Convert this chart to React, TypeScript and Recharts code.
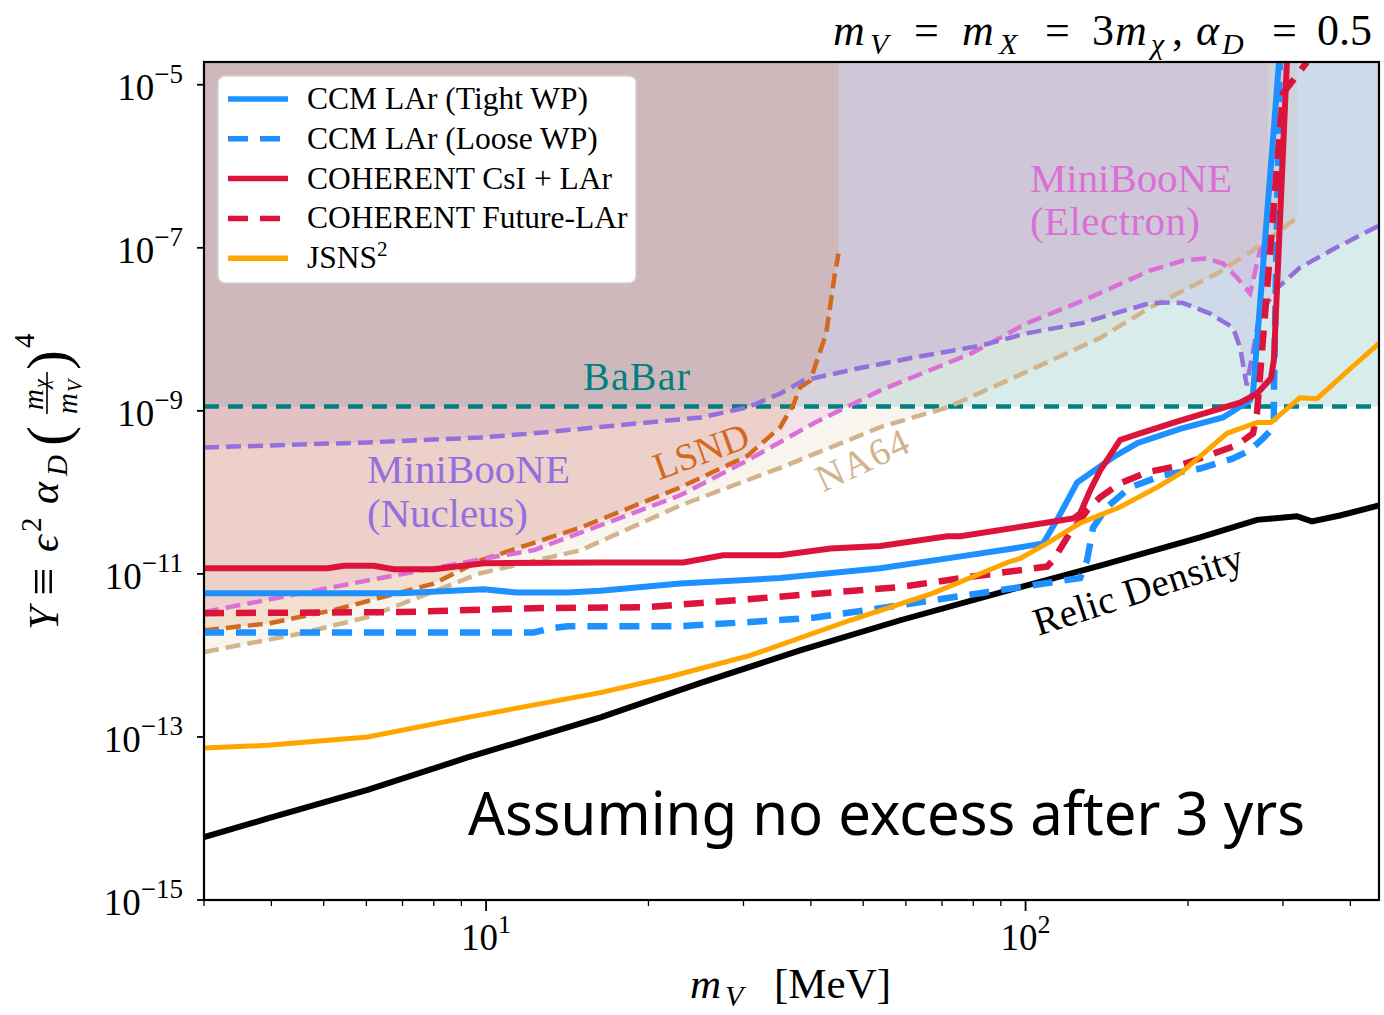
import React from 'react';
import { ComposedChart, XAxis, YAxis, Area, Line } from 'recharts';

type Pt = [number, number];

// axis ticks
const xTicks = [3, 4, 5, 6, 7, 8, 9, 10, 20, 30, 40, 50, 60, 70, 80, 90, 100, 200, 300, 400];
const xMajorTicks = [10, 100];
const xTickExps = ['1', '2'];
const yTicks = [1e-15, 1e-13, 1e-11, 1e-9, 1e-7, 1e-5];
const yTickExps = ['−15', '−13', '−11', '−9', '−7', '−5'];

const X_DOMAIN: [number, number] = [3, 452];
const Y_DOMAIN: [number, number] = [1e-15, 1.9e-5];

// existing constraints (filled above the curve)
const babar: Pt[] = [[3, 1.13e-9], [452, 1.13e-9]];

const mbNucleus: Pt[] = [
  [3.0, 3.55e-10], [6.03, 4.1e-10], [9.77, 4.7e-10], [12.25, 5.3e-10], [25.0, 8.3e-10],
  [30.5, 1.1e-9], [35.1, 1.63e-9], [38.7, 2.35e-9], [48.8, 3.3e-9], [61.9, 4.5e-9],
  [82.6, 6.3e-9], [100.3, 8.9e-9], [127.8, 1.2e-8], [170.2, 2.1e-8], [185.3, 2.13e-8],
  [195.9, 2.1e-8], [219.8, 1.56e-8], [242.4, 1.05e-8], [249.8, 6.0e-9], [257, 2.05e-9],
  [271.9, 1.56e-8], [293.6, 3.25e-8], [322.5, 5.7e-8], [376, 1.0e-7], [452, 1.87e-7],
];

const mbElectron: Pt[] = [
  [3.0, 3.4e-12], [6.03, 8.3e-12], [10.0, 1.55e-11], [12.25, 1.95e-11], [14.97, 3.2e-11],
  [22.9, 9.2e-11], [30.5, 2.46e-10], [40.4, 7.0e-10], [53.8, 1.78e-9], [61.9, 2.6e-9],
  [79.0, 5.0e-9], [100.3, 1.18e-8], [127.8, 2.25e-8], [170.2, 5.26e-8], [195.9, 6.97e-8],
  [217.0, 7.4e-8], [232.3, 6.4e-8], [246.6, 4.3e-8], [260.7, 2.75e-8], [271.9, 9.2e-8],
  [281.3, 1.23e-7],
];

const lsnd: Pt[] = [
  [3.0, 2.04e-12], [3.94, 2.46e-12], [5.22, 3.6e-12], [8.0, 7.6e-12], [9.77, 1.47e-11],
  [14.97, 3.7e-11], [22.9, 1.15e-10], [30.5, 2.8e-10], [35.1, 6.3e-10], [37.2, 1.23e-9],
  [38.2, 1.94e-9], [39.9, 2.35e-9], [42.7, 8.9e-9], [44.2, 4.3e-8], [45.0, 8.5e-8],
];

const na64: Pt[] = [
  [3.0, 1.1e-12], [4.54, 1.86e-12], [6.03, 2.95e-12], [9.77, 1.02e-11], [14.97, 1.95e-11],
  [22.9, 6.9e-11], [35.1, 2.0e-10], [53.8, 6.3e-10], [71.6, 1.1e-9], [92.5, 2.35e-9],
  [137.8, 7.9e-9], [170.2, 1.85e-8], [226.4, 4.83e-8], [271.9, 1.06e-7], [318.4, 2.34e-7],
];

// thermal target
const relicDensity: Pt[] = [
  [3.0, 5.9e-15], [3.94, 1.0e-14], [6.03, 2.24e-14], [9.24, 5.6e-14], [16.3, 1.74e-13],
  [25.0, 4.6e-13], [38.2, 1.15e-12], [58.6, 2.7e-12], [89.7, 5.9e-12], [137.5, 1.26e-11],
  [210.6, 2.8e-11], [268.5, 4.6e-11], [318.4, 5.1e-11], [339.4, 4.4e-11], [382.5, 5.2e-11],
  [452, 6.9e-11],
];

// projected sensitivities
const ccmTight: Pt[] = [
  [3.0, 5.8e-12], [6.95, 5.8e-12], [9.9, 6.5e-12], [11.4, 5.9e-12], [14.16, 5.9e-12],
  [16.3, 6.2e-12], [22.9, 7.6e-12], [35.1, 8.9e-12], [53.8, 1.17e-11], [71.6, 1.55e-11],
  [94.8, 2.05e-11], [107.8, 2.37e-11], [114.4, 4.6e-11], [124.6, 1.32e-10], [145.3, 2.7e-10],
  [161.0, 4.0e-10], [193.4, 6.0e-10], [232.3, 8.3e-10], [260.7, 1.35e-9], [264.0, 1.63e-9],
  [295, 1.9e-5],
];

const ccmLoose: Pt[] = [
  [3.0, 1.91e-12], [12.25, 1.91e-12], [13.17, 2.14e-12], [14.16, 2.28e-12], [22.9, 2.28e-12],
  [30.5, 2.56e-12], [40.4, 2.9e-12], [53.8, 3.8e-12], [82.4, 5.8e-12], [126.2, 8.9e-12],
  [130.0, 1.47e-11], [133.4, 3.7e-11], [141.6, 6.6e-11], [156.2, 1.15e-10], [179.8, 1.62e-10],
  [210.6, 1.96e-10], [242.4, 2.6e-10], [260.7, 3.3e-10], [275.5, 4.6e-10], [288.6, 6.3e-10],
  [288.6, 1.63e-9], [296, 1.9e-5],
];

const coherentNow: Pt[] = [
  [3.0, 1.17e-11], [5.09, 1.17e-11], [5.45, 1.26e-11], [6.19, 1.26e-11], [6.74, 1.14e-11],
  [8.0, 1.14e-11], [9.9, 1.35e-11], [16.3, 1.38e-11], [23.2, 1.38e-11], [27.5, 1.69e-11],
  [35.1, 1.69e-11], [43.5, 2.05e-11], [53.8, 2.2e-11], [71.6, 2.9e-11], [75.7, 2.9e-11],
  [103.3, 4.0e-11], [122.5, 4.8e-11], [126.2, 5.5e-11], [131.7, 1.05e-10], [137.5, 1.86e-10],
  [149.7, 4.4e-10], [163.0, 5.3e-10], [193.4, 7.6e-10], [249.8, 1.26e-9], [268.5, 1.63e-9],
  [285.0, 2.5e-9], [288.6, 4.2e-9], [305.1, 1.9e-5],
];

const coherentFuture: Pt[] = [
  [3.0, 3.3e-12], [6.95, 3.4e-12], [12.25, 3.8e-12], [19.9, 3.9e-12], [25.0, 4.4e-12],
  [38.2, 5.5e-12], [58.6, 6.9e-12], [78.0, 9.1e-12], [109.6, 1.23e-11], [112.5, 1.47e-11],
  [119.4, 2.8e-11], [130.0, 6.0e-11], [137.5, 8.7e-11], [149.7, 1.29e-10], [168.0, 1.77e-10],
  [193.4, 2.14e-10], [226.4, 3.1e-10], [246.6, 3.8e-10], [264.0, 5.3e-10], [268.5, 9.3e-10],
  [300.0, 7.8e-6], [332.3, 1.9e-5],
];

const jsns2: Pt[] = [
  [3.0, 7.3e-14], [3.94, 7.9e-14], [6.03, 1.0e-13], [9.24, 1.74e-13], [16.3, 3.5e-13],
  [21.7, 5.4e-13], [30.9, 1.0e-12], [47.3, 2.7e-12], [67.4, 5.8e-12], [92.5, 1.38e-11],
  [97.7, 1.55e-11], [109.6, 2.37e-11], [126.2, 4.2e-11], [149.7, 6.6e-11], [175.3, 1.15e-10],
  [193.4, 1.7e-10], [236.3, 5.3e-10], [268.5, 7.2e-10], [285.0, 7.2e-10], [322.5, 1.45e-9],
  [347, 1.41e-9], [402, 3.4e-9], [452, 6.7e-9],
];

const legendLabels = ['CCM LAr (Tight WP)', 'CCM LAr (Loose WP)', 'COHERENT CsI + LAr', 'COHERENT Future-LAr', 'JSNS'];

const pts = (a: Pt[]) => a.map(([x, y]) => ({ x, y }));

const SERIF = "'Liberation Serif', 'Times New Roman', serif";
const BLUE = '#1E90FF';
const RED = '#DC143C';
const ORANGE = '#FFA500';
const TEAL = '#008080';
const PURPLE = '#9370DB';
const ORCHID = '#DA70D6';
const CHOC = '#D2691E';
const TAN = '#D2B48C';

const THIN_DASH = '15 7';
const THICK_DASH = '20 12';

const XTick = (props: any) => {
  const { x, y, payload } = props;
  const mi = xMajorTicks.indexOf(payload.value);
  const major = mi >= 0;
  return (
    <g>
      <line x1={x} x2={x} y1={y} y2={y + (major ? 11 : 6)} stroke="#000" strokeWidth={major ? 1.8 : 1.3} />
      {major && (
        <text x={x} y={y + 50} textAnchor="middle" fontFamily={SERIF} fontSize={37} fill="#000">
          10<tspan dy={-17} fontSize={26}>{xTickExps[mi]}</tspan>
        </text>
      )}
    </g>
  );
};

const YTick = (props: any) => {
  const { x, y, payload } = props;
  let idx = 0;
  yTicks.forEach((t, i) => {
    if (Math.abs(Math.log10(t) - Math.log10(payload.value)) < 0.01) idx = i;
  });
  return (
    <g>
      <line x1={x - 7} x2={x} y1={y} y2={y} stroke="#000" strokeWidth={1.8} />
      <text x={x - 21} y={y + 15} textAnchor="end" fontFamily={SERIF} fontSize={37} fill="#000">
        10<tspan dy={-17} fontSize={27}>{yTickExps[idx]}</tspan>
      </text>
    </g>
  );
};

const fillArea = (data: Pt[], color: string, key: string) => (
  <Area
    key={key}
    data={pts(data)}
    dataKey="y"
    type="linear"
    baseValue="dataMax"
    stroke="none"
    fill={color}
    fillOpacity={0.15}
    dot={false}
    activeDot={false}
    isAnimationActive={false}
  />
);

const curve = (data: Pt[], color: string, width: number, dash: string | undefined, key: string) => (
  <Line
    key={key}
    data={pts(data)}
    dataKey="y"
    type="linear"
    stroke={color}
    strokeWidth={width}
    strokeDasharray={dash}
    dot={false}
    activeDot={false}
    isAnimationActive={false}
  />
);

const legendStyles = [
  { color: BLUE, dash: undefined },
  { color: BLUE, dash: THICK_DASH },
  { color: RED, dash: undefined },
  { color: RED, dash: THICK_DASH },
  { color: ORANGE, dash: undefined },
];

function Overlay() {
  const it = { fontStyle: 'italic' as const };
  return (
    <svg
      width={1384}
      height={1015}
      style={{ position: 'absolute', left: 0, top: 0, pointerEvents: 'none' }}
      fontFamily={SERIF}
    >
      <rect x={204} y={62} width={1175} height={838} fill="none" stroke="#000" strokeWidth={2.2} />

      {/* title */}
      <g fontSize={44} fill="#000">
        <text x={833} y={45} {...it}>m</text>
        <text x={870} y={54} fontSize={30} {...it}>V</text>
        <text x={914} y={45}>=</text>
        <text x={962} y={45} {...it}>m</text>
        <text x={999} y={54} fontSize={30} {...it}>X</text>
        <text x={1045} y={45}>=</text>
        <text x={1092} y={45}>3</text>
        <text x={1115} y={45} {...it}>m</text>
        <text x={1151} y={54} fontSize={30} {...it}>χ</text>
        <text x={1172} y={45}>,</text>
        <text x={1196} y={45} {...it}>α</text>
        <text x={1222} y={54} fontSize={30} {...it}>D</text>
        <text x={1272} y={45}>=</text>
        <text x={1317} y={45}>0.5</text>
      </g>

      {/* x label */}
      <g fontSize={43} fill="#000">
        <text x={690} y={998} {...it}>m</text>
        <text x={725} y={1006} fontSize={30} {...it}>V</text>
        <text x={774} y={998}>[MeV]</text>
      </g>

      {/* y label */}
      <g transform="translate(58,480) rotate(-90)" fill="#000" fontSize={42}>
        <text x={-150} y={0} {...it}>Y</text>
        <text x={-116} y={2} fontSize={50}>≡</text>
        <text x={-72} y={0} {...it}>ϵ</text>
        <text x={-52} y={-17} fontSize={29}>2</text>
        <text x={-24} y={0} {...it}>α</text>
        <text x={4} y={9} fontSize={29} {...it}>D</text>
        <text x={34} y={10} fontSize={60}>(</text>
        <text x={70} y={-15} fontSize={29} {...it}>m</text>
        <text x={92} y={-10} fontSize={20} {...it}>χ</text>
        <line x1={66} x2={108} y1={-11} y2={-11} stroke="#000" strokeWidth={1.6} />
        <text x={66} y={19} fontSize={29} {...it}>m</text>
        <text x={88} y={24} fontSize={20} {...it}>V</text>
        <text x={110} y={10} fontSize={60}>)</text>
        <text x={132} y={-24} fontSize={29}>4</text>
      </g>

      {/* region labels */}
      <text x={583} y={390} fontSize={40} fill={TEAL} textLength={107}>BaBar</text>
      <text x={367} y={483} fontSize={41} fill={PURPLE} textLength={203}>MiniBooNE</text>
      <text x={367} y={527} fontSize={41} fill={PURPLE} textLength={161}>(Nucleus)</text>
      <text x={1030} y={192} fontSize={41} fill={ORCHID} textLength={202}>MiniBooNE</text>
      <text x={1030} y={235} fontSize={41} fill={ORCHID} textLength={170}>(Electron)</text>
      <text x={701} y={464} fontSize={38} fill={CHOC} textAnchor="middle" transform="rotate(-20 701 451)" textLength={99}>LSND</text>
      <text x={862} y={473} fontSize={38} fill={TAN} textAnchor="middle" transform="rotate(-25 862 460)" textLength={98}>NA64</text>
      <text x={1138} y={603} fontSize={39} fill="#000" textAnchor="middle" transform="rotate(-18 1138 590)" textLength={218}>Relic Density</text>

      <text
        x={468}
        y={835}
        fontSize={60}
        fill="#000"
        fontFamily="'Comic Sans MS', 'Noto Sans', sans-serif"
        textLength={837}
        lengthAdjust="spacingAndGlyphs"
      >
        Assuming no excess after 3 yrs
      </text>

      {/* legend */}
      <rect x={218} y={76} width={418} height={207} rx={7} fill="#fff" stroke="#d4d4d4" strokeWidth={1.5} />
      {legendLabels.map((lab, i) => {
        const cy = 99 + i * 39.8;
        const s = legendStyles[i];
        return (
          <g key={lab}>
            <line x1={228} x2={288} y1={cy} y2={cy} stroke={s.color} strokeWidth={5.5} strokeDasharray={s.dash} />
            <text x={307} y={cy + 10} fontSize={31.5} fill="#000">
              {lab}
              {i === 4 && <tspan dy={-12} fontSize={21}>2</tspan>}
            </text>
          </g>
        );
      })}
    </svg>
  );
}

export default function App() {
  return (
    <div style={{ position: 'relative', width: 1384, height: 1015, background: '#fff' }}>
      <style>{'body{margin:0}'}</style>
      <ComposedChart width={1384} height={1015} margin={{ top: 62, right: 5, bottom: 0, left: 0 }}>
        <XAxis
          type="number"
          dataKey="x"
          scale="log"
          domain={X_DOMAIN}
          allowDataOverflow
          ticks={xTicks}
          interval={0}
          tickSize={0}
          tickMargin={0}
          tickLine={false}
          axisLine={false}
          height={115}
          tick={(p: any) => <XTick {...p} />}
        />
        <YAxis
          type="number"
          scale="log"
          domain={Y_DOMAIN}
          allowDataOverflow
          ticks={yTicks}
          interval={0}
          tickSize={0}
          tickMargin={0}
          tickLine={false}
          axisLine={false}
          width={204}
          tick={(p: any) => <YTick {...p} />}
        />
        {fillArea(babar, TEAL, 'f-babar')}
        {fillArea(mbNucleus, PURPLE, 'f-nuc')}
        {fillArea(mbElectron, ORCHID, 'f-ele')}
        {fillArea(na64, TAN, 'f-na64')}
        {fillArea(lsnd, CHOC, 'f-lsnd')}

        {curve(babar, TEAL, 4.5, '15 9', 'l-babar')}
        {curve(lsnd, CHOC, 4.5, THIN_DASH, 'l-lsnd')}
        {curve(na64, TAN, 4.5, THIN_DASH, 'l-na64')}
        {curve(mbElectron, ORCHID, 4.5, THIN_DASH, 'l-ele')}
        {curve(mbNucleus, PURPLE, 4.5, THIN_DASH, 'l-nuc')}

        {curve(relicDensity, '#000', 6, undefined, 'l-relic')}
        {curve(ccmTight, BLUE, 6, undefined, 'l-ccmt')}
        {curve(ccmLoose, BLUE, 6.5, THICK_DASH, 'l-ccml')}
        {curve(coherentNow, RED, 6, undefined, 'l-coh')}
        {curve(coherentFuture, RED, 6.5, THICK_DASH, 'l-cohf')}
        {curve(jsns2, ORANGE, 5, undefined, 'l-jsns')}
      </ComposedChart>
      <Overlay />
    </div>
  );
}
